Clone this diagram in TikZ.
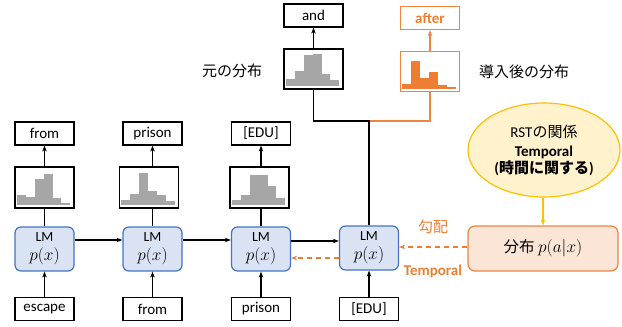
\documentclass[tikz,border=0pt]{standalone}
\usepackage{fontspec}
\setmainfont{Carlito}
\newfontfamily\jp{Noto Sans CJK JP}
\usetikzlibrary{arrows.meta,calc,shapes.geometric}

\definecolor{lmfill}{HTML}{DAE3F3}
\definecolor{lmdraw}{HTML}{4472C4}
\definecolor{histgray}{HTML}{A6A6A6}
\definecolor{orng}{HTML}{ED7D31}
\definecolor{orngline}{HTML}{EE8440}
\definecolor{distfill}{HTML}{FBE5D6}
\definecolor{ellfill}{HTML}{FFF2CC}
\definecolor{ellline}{HTML}{FFC000}

% six histogram bars inside a box node: #1 node, #2 colour, #3 bar heights
\newcommand\histbars[3]{%
  \begin{scope}[shift={(#1.south west)}]
    \foreach \h [count=\i from 0] in {#3}
      \fill[#2] (2.5+8.9*\i,-3.5) rectangle (11.4+8.9*\i,-3.5-\h);
  \end{scope}}

\begin{document}
\begin{tikzpicture}[x=1pt,y=-1pt,
  font=\fontsize{15}{18}\selectfont,
  wordbox/.style={draw, line width=1.2pt, minimum width=59pt, minimum height=23pt, inner sep=0pt},
  histbox/.style={draw, line width=1.2pt, minimum width=59pt, minimum height=41pt, inner sep=0pt},
  lmbox/.style={draw=lmdraw, fill=lmfill, line width=1.2pt, rounded corners=6pt,
    minimum width=59pt, minimum height=44pt, inner sep=0pt, align=center,
    font=\fontsize{14}{20}\selectfont},
  conn/.style={line width=1.2pt},
  arr/.style={conn, -{Stealth[length=6pt,width=4.5pt]}},
  oarr/.style={line width=1.5pt, draw=orng, dash pattern=on 5pt off 4pt, -{Stealth[length=6pt,width=4.5pt]}},
]
\useasboundingbox (0,0) rectangle (622,327);

\newcommand\lmtext{LM\\[-1pt]{\fontsize{16.5}{20}\selectfont$p(x)$}}

% language model chain
\node[lmbox] (lm1) at (44.5,249) {\lmtext};
\node[lmbox] (lm2) at (152.5,249) {\lmtext};
\node[lmbox] (lm3) at (261,249) {\lmtext};
\node[lmbox] (lm4) at (369,248) {\lmtext};

% input tokens
\node[wordbox] (in1) at (44.5,309) {escape};
\node[wordbox] (in2) at (152.5,309) {from};
\node[wordbox] (in3) at (261,309) {prison};
\node[wordbox] (in4) at (369,309) {[EDU]};

% output distributions
\node[histbox] (h1) at (44.5,187.5) {};
\node[histbox] (h2) at (149,187.5) {};
\node[histbox] (h3) at (259.5,187.5) {};
\histbars{h1}{histgray}{10,7.7,25.7,31.3,7.3,2.5}
\histbars{h2}{histgray}{5,11,32.3,14.3,9.7,4.3}
\histbars{h3}{histgray}{5.3,10,30.3,30.3,18.7,6.7}

% predicted tokens
\node[wordbox] (out1) at (44.5,133.5) {from};
\node[wordbox] (out2) at (152.5,133.5) {prison};
\node[wordbox] (out3) at (261,133.5) {[EDU]};

\foreach \k in {1,2,3} {
  \draw[arr] (in\k) -- (lm\k);
  \draw[conn] (lm\k.north) -- (lm\k.north |- h\k.south);
  \draw[arr] (lm\k.north |- h\k.north) -- (out\k);
}
\draw[arr] (in4) -- (lm4);

\draw[arr] ([yshift=9pt]lm1.east) -- ([yshift=9pt]lm2.west);
\draw[arr] ([yshift=9pt]lm2.east) -- ([yshift=9pt]lm3.west);
\draw[arr] ([yshift=8pt]lm3.east) -- ([yshift=8pt]lm3.east -| lm4.west);

% original vs. adjusted distribution at the last step
\node[histbox, minimum height=40pt] (hand) at (313.5,69) {};
\histbars{hand}{histgray}{6.7,15,30.7,31.7,11.7,5.7}
\node[wordbox] (wand) at (313.5,15.5) {and};
\node[histbox, minimum height=40pt, draw=orngline] (haft) at (430,71.5) {};
\histbars{haft}{orng}{4.3,27.7,10.3,16.7,3.7,1.7}
\node[wordbox, draw=orngline, text=orng, font=\fontsize{15}{18}\selectfont\bfseries] (waft) at (430,18) {after};

\coordinate (br) at (369,121);
\draw[conn, orngline] (br) -| (haft.south);
\draw[conn] (lm4.north) -- (br) -| (hand.south);
\draw[arr] (hand) -- (wand);
\draw[arr, orngline] (haft) -- (waft);

\node (lorig) at (232,71) {\jp 元の分布};
\node (lnew) at (524,72) {\jp 導入後の分布};

% discourse relation and its distribution
\node[ellipse, draw=ellline, fill=ellfill, line width=1.2pt, minimum width=152pt,
  minimum height=94pt, inner sep=0pt, align=center,
  font=\fontsize{15}{17}\selectfont] (rst) at (544,150)
  {RST{\jp の関係}\\[2pt]\textbf{Temporal}\\\textbf{({\jp\bfseries 時間に関する})}};
\node[draw=orngline, fill=distfill, line width=1.2pt, rounded corners=7pt,
  minimum width=150pt, minimum height=45pt, inner sep=0pt,
  font=\fontsize{15.5}{18}\selectfont] (dist) at (543,248.5) {{\jp 分布} {\fontsize{16.5}{18}\selectfont$p(a|x)$}};
\draw[arr, ellline] (rst.south -| dist.north) -- (dist.north);

\draw[oarr] ([yshift=1.5pt]dist.west) -- ([yshift=1.5pt]dist.west -| lm4.east);
\draw[oarr] ([yshift=-10pt]lm4.west) -- ([yshift=-10pt]lm4.west -| lm3.east);

\node[text=orng] (grad) at (433,226.5) {\jp 勾配};
\node[text=orng, font=\fontsize{15}{18}\selectfont\bfseries] (trel) at (433,271.5) {Temporal};
\end{tikzpicture}
\end{document}
